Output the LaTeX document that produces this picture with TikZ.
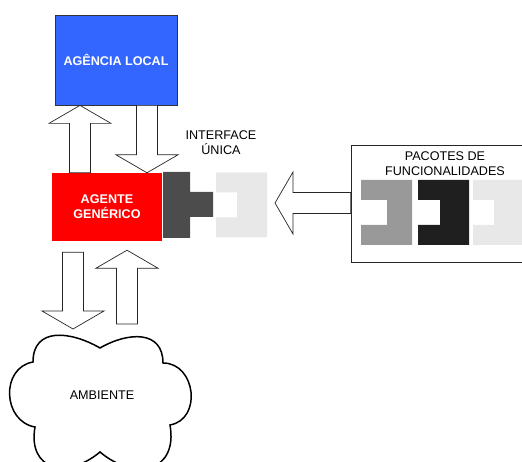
\documentclass[tikz,border=0pt]{standalone}
\usepackage{fontspec}
\setmainfont{Liberation Sans}
\usetikzlibrary{calc}

\definecolor{agblue}{RGB}{51,102,255}
\definecolor{agred}{RGB}{255,0,0}

% block arrow from tail #1 to tip #2
\newcommand{\blockarrow}[2]{%
  \coordinate (ba-h) at ($(#2)!18pt!(#1)$);
  \draw[blockarr] ($(#1)!10.5pt!90:(#2)$) -- ($(ba-h)!10.5pt!-90:(#1)$) -- ($(ba-h)!31pt!-90:(#1)$) -- (#2)
     -- ($(ba-h)!31pt!90:(#1)$) -- ($(ba-h)!10.5pt!90:(#1)$) -- ($(#1)!10.5pt!-90:(#2)$) -- cycle;}

% socket piece: left, bottom, notch width, colour
\newcommand{\socket}[4]{%
  \fill[#4] (#1,#2) -- ++(51,0) -- ++(0,65) -- ++(-51,0) -- ++(0,-20) -- ++(#3,0) -- ++(0,-25) -- ++(-#3,0) -- cycle;}

\begin{document}
\begin{tikzpicture}[x=1pt,y=1pt,
    every node/.style={font=\fontsize{12.6}{15}\selectfont, align=center},
    blockarr/.style={draw=black!85, line width=0.7pt, fill=white},
    boxtext/.style={text=white, font=\fontsize{12.6}{15}\selectfont\bfseries, inner sep=0pt}
    ]
    \path[use as bounding box, clip] (0,0) rectangle (522,462);

    % The boxes
    \node[boxtext, draw=black!80, line width=0.8pt, fill=agblue, minimum width=122pt, minimum height=90pt] (agencia) at (116,402) {AGÊNCIA LOCAL};
    \node[boxtext, fill=agred, minimum width=110pt, minimum height=68pt] (agente) at (107,255) {AGENTE\\GENÉRICO};
    \node[draw=black!85, line width=0.7pt, minimum width=190pt, minimum height=117pt, inner sep=0pt] (pacotes) at (446,258.5) {};

    % The interface
    \fill[black!70] (163,224) -- (190,224) -- (190,245) -- (213,245) -- (213,270) -- (190,270) -- (190,290) -- (163,290) -- cycle;
    \socket{216}{224.5}{21}{black!9}

    % The packages
    \socket{361}{217}{26}{black!40}
    \socket{418}{217}{22}{black!88}
    \socket{473}{217}{21}{black!9}

    % The cloud
    \draw[line width=1.5pt] (33,100) to[out=90,in=150,looseness=1.3] (100,114) to[out=30,in=90,looseness=1.3] (163,99)
        to[out=0,in=10,looseness=1.35] (170,37) to[out=-80,in=-40,looseness=1.6] (100,10)
        to[out=-140,in=-100,looseness=1.6] (35,35) to[out=170,in=190,looseness=1.3] cycle;
    \node (ambiente) at (102,67) {AMBIENTE};

    % The arrows
    \coordinate (upA) at ([xshift=-27pt]agente.north);
    \coordinate (upB) at ([xshift=-36pt]agencia.south);
    \blockarrow{upA}{upB}
    \coordinate (dnA) at ([xshift=31pt]agencia.south);
    \coordinate (dnB) at ([xshift=40pt]agente.north);
    \blockarrow{dnA}{dnB}
    \coordinate (envA) at ([xshift=-34pt,yshift=-11pt]agente.south);
    \coordinate (envB) at (73,133);
    \blockarrow{envA}{envB}
    \coordinate (perA) at (127,138);
    \coordinate (perB) at ([xshift=20pt,yshift=-9pt]agente.south);
    \blockarrow{perA}{perB}
    \coordinate (plugA) at (pacotes.west |- 0,259);
    \coordinate (plugB) at (275,259);
    \blockarrow{plugA}{plugB}

    % The labels
    \node (interface) at (221,319) {INTERFACE\\ÚNICA};
    \node (pactitle) at (445,298.5) {PACOTES DE\\FUNCIONALIDADES};
\end{tikzpicture}
\end{document}
